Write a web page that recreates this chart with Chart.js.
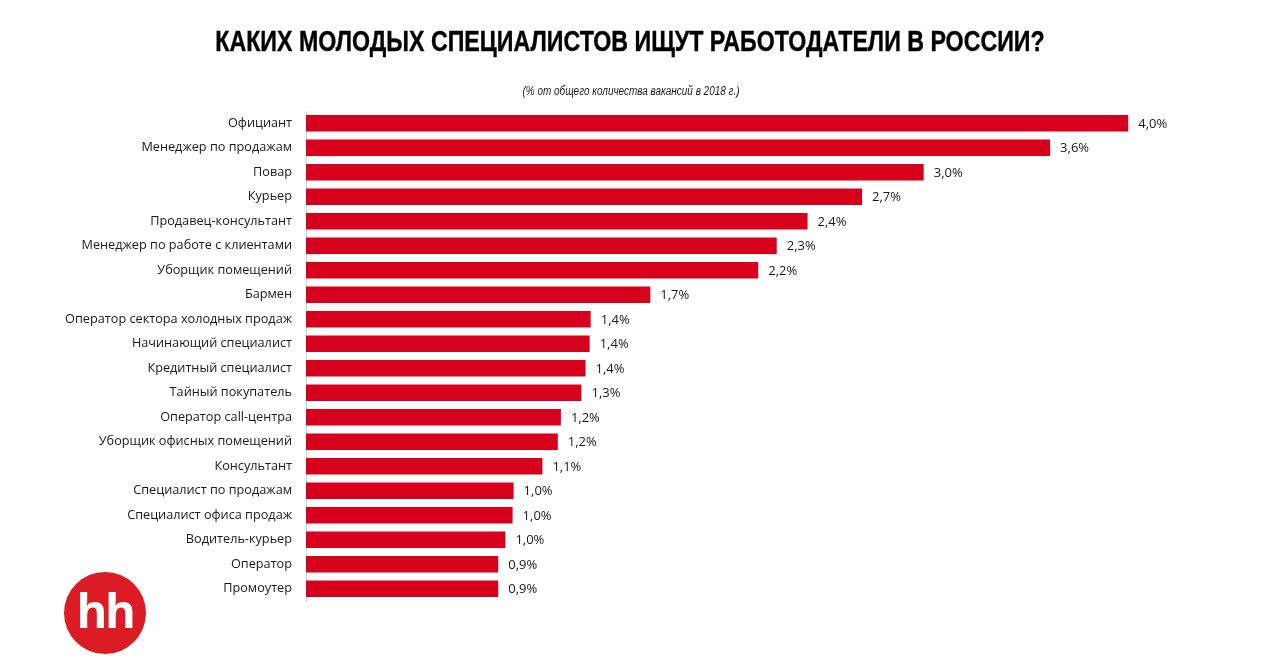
<!DOCTYPE html>
<html lang="ru">
<head>
<meta charset="utf-8">
<title>Каких молодых специалистов ищут работодатели в России?</title>
<script src="https://cdn.jsdelivr.net/npm/chart.js@4/dist/chart.umd.min.js"></script>
<style>
  html, body { margin: 0; background: #fff; }
  #wrap { position: relative; width: 1268px; height: 666px; overflow: hidden; }
  #chart { position: absolute; left: 0; top: 0; }
  #title {
    position: absolute; left: 0; width: 1260px; top: 25px; text-align: center;
    font: bold 29px "Liberation Sans", sans-serif; color: #000;
    -webkit-text-stroke: 0.4px #000;
    white-space: nowrap; transform: scaleX(0.8); transform-origin: 630px 0;
  }
  #sub {
    position: absolute; left: 0; width: 1262px; top: 84px; text-align: center;
    font: italic 12px "Liberation Sans", sans-serif; color: #1a1a1a;
    transform: scaleX(0.83); transform-origin: 631px 0;
  }
  #logo {
    position: absolute; left: 64px; top: 572px; width: 82px; height: 82px; border-radius: 50%;
    background: #dc1c24; color: #fff; text-align: center;
    font: bold 47px/76px "Open Sans", sans-serif; letter-spacing: -2.5px;
  }
</style>
</head>
<body>
<div id="wrap">
  <canvas id="chart" width="1268" height="666"></canvas>
  <div id="title">КАКИХ МОЛОДЫХ СПЕЦИАЛИСТОВ ИЩУТ РАБОТОДАТЕЛИ В РОССИИ?</div>
  <div id="sub">(% от общего количества вакансий в 2018 г.)</div>
  <div id="logo">hh</div>
</div>
<script>
const categories = [
  "Официант", "Менеджер по продажам", "Повар", "Курьер", "Продавец-консультант",
  "Менеджер по работе с клиентами", "Уборщик помещений", "Бармен",
  "Оператор сектора холодных продаж", "Начинающий специалист", "Кредитный специалист",
  "Тайный покупатель", "Оператор call-центра", "Уборщик офисных помещений", "Консультант",
  "Специалист по продажам", "Специалист офиса продаж", "Водитель-курьер", "Оператор", "Промоутер"
];
const values = [4.0, 3.62, 3.005, 2.705, 2.44, 2.29, 2.2, 1.675, 1.385, 1.38, 1.36, 1.34, 1.24, 1.225, 1.15, 1.01, 1.005, 0.97, 0.935, 0.935];
const valueLabels = [
  "4,0%", "3,6%", "3,0%", "2,7%", "2,4%", "2,3%", "2,2%", "1,7%", "1,4%", "1,4%",
  "1,4%", "1,3%", "1,2%", "1,2%", "1,1%", "1,0%", "1,0%", "1,0%", "0,9%", "0,9%"
];

const barLabels = {
  id: "barLabels",
  afterDatasetsDraw(chart) {
    const ctx = chart.ctx;
    ctx.save();
    ctx.font = '13px "Open Sans", sans-serif';
    ctx.fillStyle = "#1a1a1a";
    ctx.textAlign = "left";
    ctx.textBaseline = "middle";
    chart.getDatasetMeta(0).data.forEach((bar, i) => {
      ctx.fillText(valueLabels[i], bar.x + 10, bar.y + 1);
    });
    ctx.restore();
  }
};

new Chart(document.getElementById("chart"), {
  type: "bar",
  data: {
    labels: categories,
    datasets: [{
      data: values,
      backgroundColor: "#d6001c",
      barPercentage: 0.68,
      categoryPercentage: 1
    }]
  },
  options: {
    indexAxis: "y",
    responsive: false,
    animation: false,
    layout: { padding: { top: 111, bottom: 65, right: 37 } },
    plugins: { legend: { display: false }, tooltip: { enabled: false } },
    scales: {
      x: { display: false, min: 0, max: 4.5 },
      y: {
        afterFit: scale => { scale.width = 306; },
        grid: { display: false },
        border: { color: "#d0d0d0", width: 1 },
        ticks: {
          color: "#1a1a1a",
          padding: 6,
          autoSkip: false,
          font: { family: '"Open Sans", sans-serif', size: 12.7 }
        }
      }
    }
  },
  plugins: [barLabels]
});
</script>
</body>
</html>
